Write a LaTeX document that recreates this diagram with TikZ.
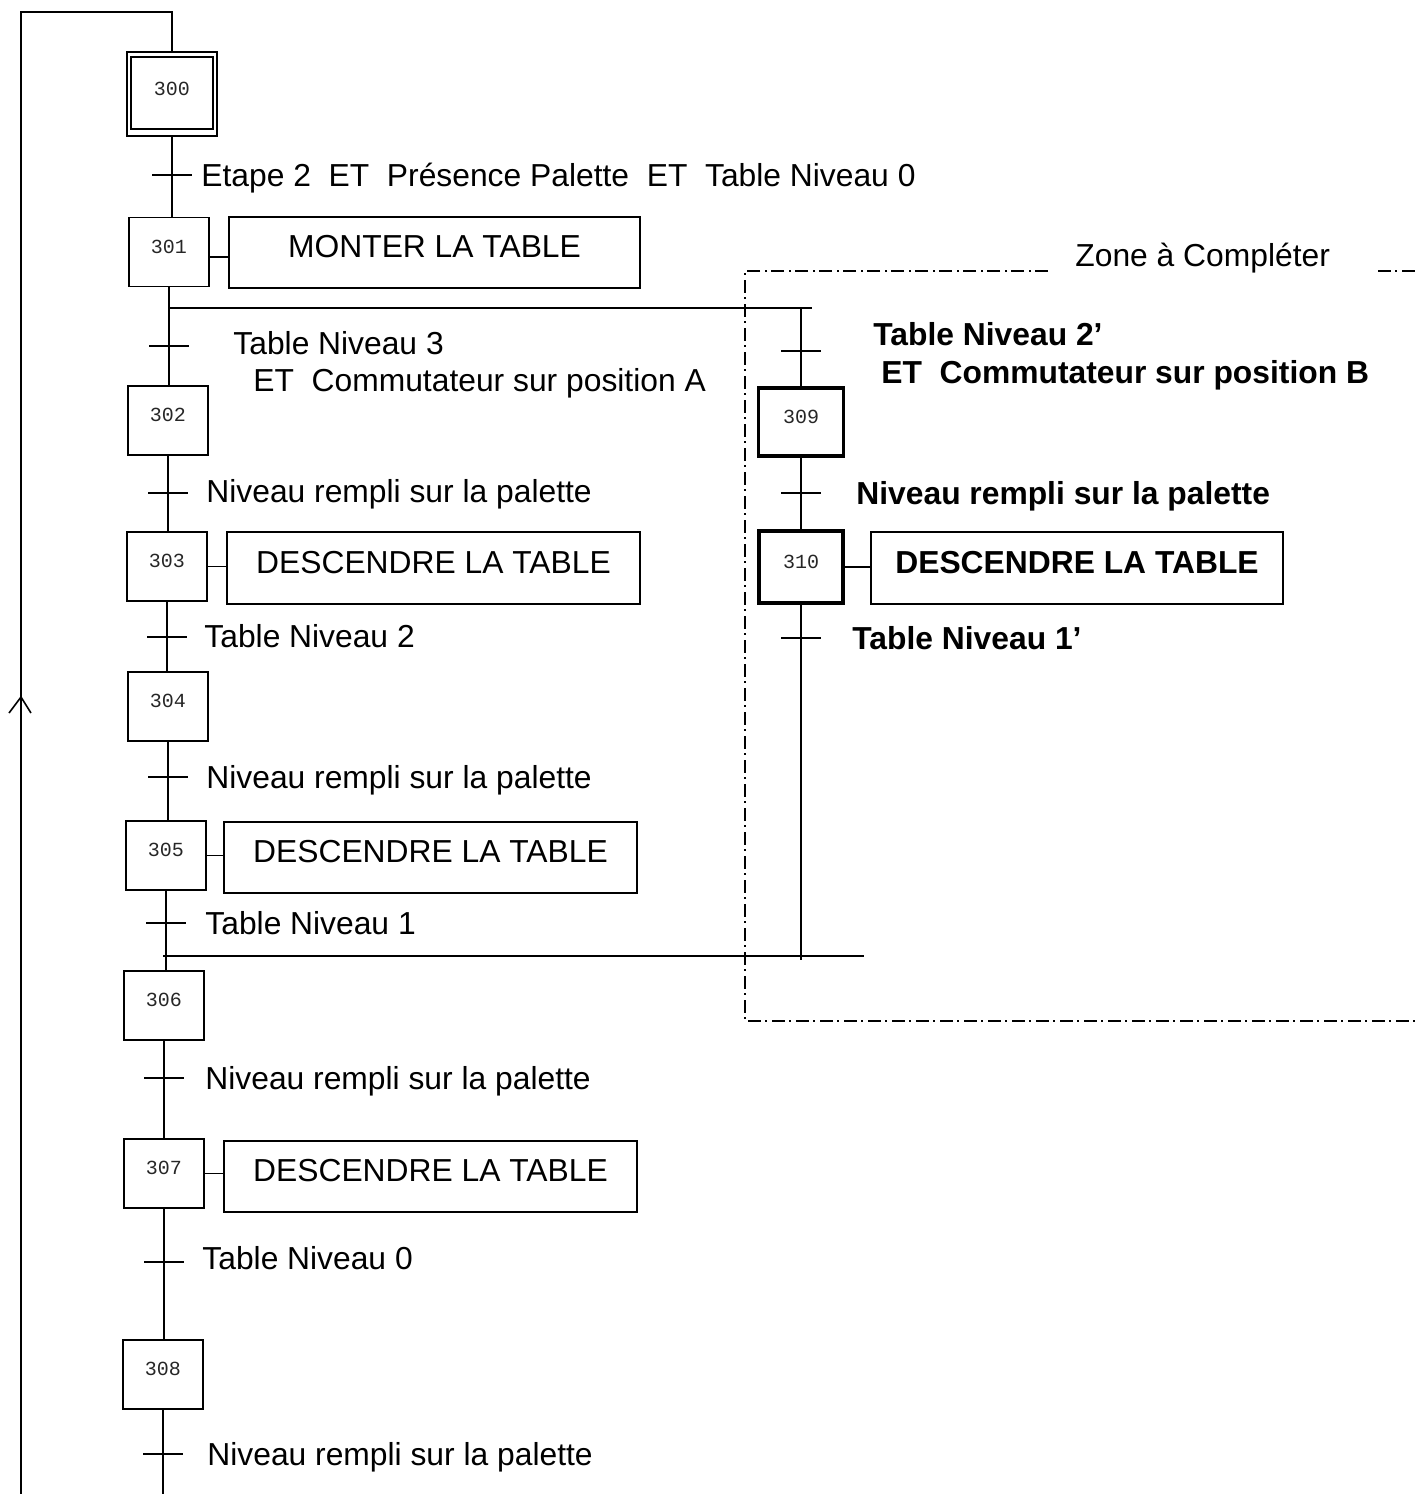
\documentclass[tikz,border=0pt]{standalone}
\usepackage{fontspec}
\setmainfont{Liberation Sans}
\setmonofont{Liberation Mono}
\usetikzlibrary{calc}
\begin{document}
\begin{tikzpicture}[x=0.5pt,y=-0.5pt,
  ln/.style={line width=0.8pt},
  stepbox/.style={draw,line width=0.8pt,inner sep=0pt,font=\ttfamily\fontsize{10}{12}\selectfont,text=black!85,text height=6pt,text depth=5pt,minimum width=40pt,minimum height=34.5pt},
  stepthick/.style={stepbox,line width=1.7pt},
  actbox/.style={draw,line width=0.8pt,inner sep=0pt,font=\fontsize{15.9}{19}\selectfont,text height=11.4pt,text depth=6pt,minimum width=206.5pt,minimum height=35.5pt},
  lbl/.style={anchor=base west,inner sep=0pt,font=\fontsize{15.9}{19}\selectfont},
  blbl/.style={anchor=base west,inner sep=0pt,font=\fontsize{15.9}{19}\selectfont\bfseries},
  zone/.style={line width=0.8pt,dash pattern=on 6.5pt off 2pt on 1pt off 2.5pt}
]
\useasboundingbox (0,0) rectangle (1418,1494);

% steps
\node[stepbox,minimum width=45pt,minimum height=42pt] (s300) at (172,94) {300};
\draw[ln] ($(s300.north west)+(5,6)$) rectangle ($(s300.south east)+(-5,-8)$);
\node[stepbox] (s301) at (169,252) {301};
\node[stepbox] (s302) at (168,420.5) {302};
\node[stepbox] (s303) at (167,566.5) {303};
\node[stepbox] (s304) at (168,706.5) {304};
\node[stepbox] (s305) at (166,855.5) {305};
\node[stepbox] (s306) at (164,1005.5) {306};
\node[stepbox] (s307) at (164,1173.5) {307};
\node[stepbox] (s308) at (163,1374.5) {308};
\node[stepthick,minimum width=42.5pt,minimum height=34pt] (s309) at (801,422) {309};
\node[stepthick,minimum width=42pt,minimum height=36pt] (s310) at (801,567) {310};

% actions
\node[actbox,minimum width=205.5pt] (a301) at (434.5,252.5) {MONTER LA TABLE};
\node[actbox,minimum height=36pt] (a303) at (433.5,568) {DESCENDRE LA TABLE};
\node[actbox] (a305) at (430.5,857.5) {DESCENDRE LA TABLE};
\node[actbox] (a307) at (430.5,1176.5) {DESCENDRE LA TABLE};
\node[actbox,minimum width=206pt,minimum height=36pt,font=\fontsize{15.9}{19}\selectfont\bfseries] (a310) at (1077,568) {DESCENDRE LA TABLE};

\draw[ln] ([yshift=-2.5pt]s301.east) -- ([yshift=-2.5pt]s301.east -| a301.west);
\draw[ln] (s303.east) -- (s303.east -| a303.west);
\draw[ln] (s305.east) -- (s305.east -| a305.west);
\draw[ln] (s307.east) -- (s307.east -| a307.west);
\draw[ln] (s310.east) -- (s310.east -| a310.west);

% main links (vertical, at the upper step's axis)
\draw[ln] (s300.south) -- (s300.south |- s301.north);
\draw[ln] (s301.south) -- (s301.south |- s302.north);
\draw[ln] (s302.south) -- (s302.south |- s303.north);
\draw[ln] (s303.south) -- (s303.south |- s304.north);
\draw[ln] (s304.south) -- (s304.south |- s305.north);
\draw[ln] (s305.south) -- (s305.south |- s306.north);
\draw[ln] (s306.south) -- (s306.south |- s307.north);
\draw[ln] (s307.south) -- (s307.south |- s308.north);
\draw[ln] (s309.south) -- (s310.north);

% divergence / convergence
\coordinate (divL) at (169,308);
\coordinate (divR) at (812,308);
\draw[ln] (divL) -- (divR);
\draw[ln] (s309.north |- divR) -- (s309.north);
\coordinate (cvL) at (163,956);
\coordinate (cvR) at (864,956);
\draw[line width=1.1pt] (cvL) -- (cvR);
\draw[ln] (s310.south) -- ($(s310.south |- cvR)+(0,4)$);

% transitions
\foreach \n/\x/\y in {t300/172/175, t301/169/346, t302/168/493, t303/167/637, t304/168/777, t305/166/923, t306/164/1078, t307/164/1262, t308/163/1454, t309a/801/351, t309b/801/493, t310/801/638}{
  \coordinate (\n) at (\x,\y);
  \draw[ln] ($(\n)+(-20,0)$) -- ($(\n)+(20,0)$);
}

% loop back
\coordinate (lpB) at (21,1494);
\coordinate (lpT) at (21,12);
\draw[line width=0.9pt] (s308.south) -- (s308.south |- lpB);
\draw[line width=0.9pt] (lpB) -- (lpT) -- (lpT -| s300.north) -- (s300.north);
\coordinate (arr) at (21,697);
\draw[ln] ($(arr)+(-12,16)$) -- (arr) -- ($(arr)+(10,16)$);

% zone
\draw[zone] (1048,271) -- (745,271) -- (745,1021) -- (1418,1021);
\draw[zone] (1378,271) -- (1418,271);
\node[lbl] (zl) at (1075,266) {Zone à Compléter};

% receptivities
\node[lbl] (r300) at (201,186) {Etape 2\ \ ET\ \ Présence Palette\ \ ET\ \ Table Niveau 0};
\node[lbl] (r301a) at (233,354) {Table Niveau 3};
\node[lbl] (r301b) at (253,391) {ET\ \ Commutateur sur position A};
\node[lbl] (r302) at (206,502) {Niveau rempli sur la palette};
\node[lbl] (r303) at (204,647) {Table Niveau 2};
\node[lbl] (r304) at (206,788) {Niveau rempli sur la palette};
\node[lbl] (r305) at (205,934) {Table Niveau 1};
\node[lbl] (r306) at (205,1089) {Niveau rempli sur la palette};
\node[lbl] (r307) at (202,1269) {Table Niveau 0};
\node[lbl] (r308) at (207,1465) {Niveau rempli sur la palette};
\node[blbl] (r309a) at (873,345) {Table Niveau 2’};
\node[blbl] (r309b) at (881,383) {ET\ \ Commutateur sur position B};
\node[blbl] (r309c) at (856,504) {Niveau rempli sur la palette};
\node[blbl] (r310) at (852,649) {Table Niveau 1’};
\end{tikzpicture}
\end{document}
